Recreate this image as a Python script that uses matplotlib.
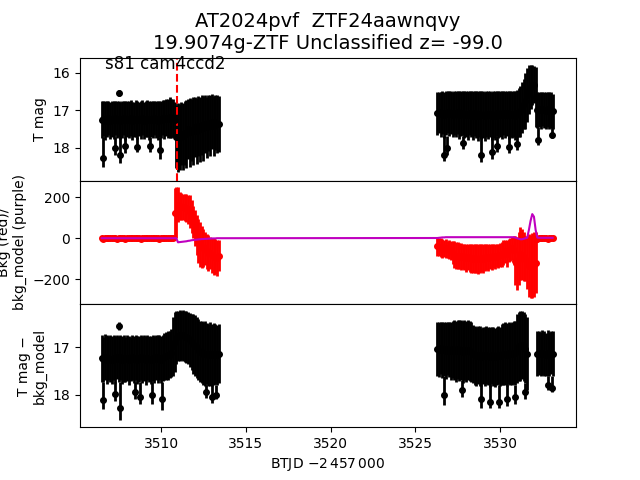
#!/usr/bin/env python3
# -*- coding: utf-8 -*-
"""
Curva de luz TESS: magnitud T, fondo (bkg) y magnitud corregida del modelo de fondo.
"""
import numpy as np
import matplotlib
matplotlib.use('Agg')
import matplotlib.pyplot as plt

nan = np.nan

'''-------    DATOS     -------'''
# Tiempos (BTJD - 2457000) del primer tramo del sector
t_s1 = [3506.5, 3506.6, 3506.7, 3506.8, 3506.9, 3507.0, 3507.1, 3507.2, 3507.3, 3507.4,
        3507.5, 3507.6, 3507.7, 3507.8, 3507.9, 3508.0, 3508.1, 3508.2, 3508.3, 3508.4,
        3508.5, 3508.6, 3508.7, 3508.8, 3508.9, 3509.0, 3509.1, 3509.2, 3509.3, 3509.4,
        3509.5, 3509.6, 3509.7, 3509.8, 3509.9, 3510.0, 3510.1, 3510.2, 3510.3, 3510.4,
        3510.5, 3510.6, 3510.7, 3510.8, 3510.9, 3511.0, 3511.1, 3511.2, 3511.3, 3511.4,
        3511.5, 3511.6, 3511.7, 3511.8, 3511.9, 3512.0, 3512.1, 3512.2, 3512.3, 3512.4,
        3512.5, 3512.6, 3512.7, 3512.8, 3512.9, 3513.0, 3513.1, 3513.2, 3513.3, 3513.4]
# Tiempos del segundo tramo
t_s2 = [3526.3, 3526.4, 3526.5, 3526.6, 3526.7, 3526.8, 3526.9, 3527.0, 3527.1, 3527.2,
        3527.3, 3527.4, 3527.5, 3527.6, 3527.7, 3527.8, 3527.9, 3528.0, 3528.1, 3528.2,
        3528.3, 3528.4, 3528.5, 3528.6, 3528.7, 3528.8, 3528.9, 3529.0, 3529.1, 3529.2,
        3529.3, 3529.4, 3529.5, 3529.6, 3529.7, 3529.8, 3529.9, 3530.0, 3530.1, 3530.2,
        3530.3, 3530.4, 3530.5, 3530.6, 3530.7, 3530.8, 3530.9, 3531.0, 3531.1, 3531.2,
        3531.3, 3531.4, 3531.5, 3531.6, 3531.7, 3531.8, 3531.9, 3532.0, 3532.1, 3532.2,
        3532.3, 3532.4, 3532.5, 3532.6, 3532.7, 3532.8, 3532.9, 3533.0, 3533.1]

# Magnitud T (panel superior)
mag_s1 = [17.25, 17.22, 17.28, 17.24, 17.20, 17.27, 17.23, 17.26, 17.21, 17.25,
          17.22, 17.27, 17.24, 17.20, 17.26, 17.23, 17.25, 17.21, 17.28, 17.24,
          17.22, 17.26, 17.23, 17.25, 17.20, 17.27, 17.24, 17.22, 17.26, 17.23,
          17.25, 17.21, 17.24, 17.27, 17.22, 17.25, 17.20, 17.24, 17.19, 17.22,
          17.18, 17.21, 17.20, 17.25, 17.70, 17.72, 17.71, 17.62, 17.69, 17.60,
          17.63, 17.50, 17.59, 17.52, 17.55, 17.45, 17.55, 17.42, 17.51, 17.40,
          17.48, 17.37, 17.45, 17.33, 17.41, 17.30, 17.42, 17.32, 17.37, 17.36]
err_s1 = [0.50, 0.47, 0.52, 0.48, 0.45, 0.50, 0.49, 0.51, 0.46, 0.50,
          0.48, 0.49, 0.50, 0.46, 0.52, 0.47, 0.50, 0.48, 0.51, 0.47,
          0.49, 0.50, 0.46, 0.51, 0.47, 0.50, 0.48, 0.49, 0.52, 0.47,
          0.50, 0.46, 0.49, 0.51, 0.48, 0.50, 0.47, 0.52, 0.50, 0.53,
          0.55, 0.52, 0.50, 0.47, 0.85, 0.92, 0.89, 0.84, 0.89, 0.85,
          0.91, 0.80, 0.91, 0.82, 0.90, 0.80, 0.87, 0.80, 0.86, 0.80,
          0.86, 0.77, 0.82, 0.75, 0.81, 0.73, 0.80, 0.74, 0.78, 0.74]
mag_s2 = [17.08, 17.05, 17.10, 17.06, 17.12, 17.07, 17.04, 17.09, 17.06, 17.11,
          17.07, 17.10, 17.05, 17.12, 17.08, 17.06, 17.11, 17.09, 17.13, 17.07,
          17.10, 17.14, 17.08, 17.12, 17.15, 17.09, 17.13, 17.11, 17.16, 17.10,
          17.13, 17.09, 17.15, 17.11, 17.14, 17.08, 17.12, 17.10, 17.13, 17.07,
          17.11, 17.08, 17.13, 17.09, 17.12, 17.10, 17.14, 17.08, 17.05, 17.02,
          16.93, 16.83, 16.75, 16.59, 16.45, 16.37, 16.33, 16.31, 16.65, 16.98,
          16.97, 17.00, 16.96, 16.99, 17.01, 16.97, 17.00, 16.98, 17.02]
err_s2 = [0.58, 0.55, 0.60, 0.57, 0.62, 0.58, 0.56, 0.60, 0.57, 0.61,
          0.60, 0.62, 0.58, 0.64, 0.60, 0.59, 0.63, 0.61, 0.65, 0.60,
          0.62, 0.65, 0.60, 0.63, 0.66, 0.61, 0.64, 0.62, 0.66, 0.61,
          0.64, 0.61, 0.65, 0.62, 0.65, 0.60, 0.63, 0.62, 0.64, 0.60,
          0.62, 0.60, 0.64, 0.61, 0.63, 0.62, 0.65, 0.62, 0.65, 0.68,
          0.68, 0.68, 0.75, 0.71, 0.65, 0.58, 0.53, 0.49, 0.80, 0.48,
          0.47, 0.49, 0.46, 0.48, 0.50, 0.47, 0.49, 0.48, 0.47]
# Puntos aislados (outliers) del panel superior, con error hacia brillante / hacia debil
t_out_mag = [3506.6, 3507.3, 3507.5, 3507.6, 3507.85, 3508.6, 3509.35, 3509.95,
             3526.7, 3526.85, 3527.8, 3528.9, 3529.5, 3529.8, 3530.5, 3531.0, 3532.25, 3533.05]
mag_out = [18.27, 18.00, 16.53, 18.19, 17.95, 17.97, 17.95, 18.05,
           18.19, 18.00, 17.88, 18.19, 18.10, 17.95, 17.97, 17.90, 17.80, 17.65]
err_out_br = [0.55, 0.28, 0.08, 0.47, 0.23, 0.25, 0.23, 0.33,
              0.51, 0.32, 0.20, 0.51, 0.42, 0.27, 0.29, 0.22, 0.35, 0.20]
err_out_db = [0.25, 0.18, 0.08, 0.22, 0.18, 0.15, 0.15, 0.25,
              0.15, 0.20, 0.15, 0.18, 0.20, 0.15, 0.18, 0.15, 0.12, 0.10]

# Fondo medido (puntos rojos)
bkg_s1 = [1, -2, 0, 2, -1, 1, 3, -1, 0, -2,
          2, 0, -1, 1, -2, 0, 2, 1, -1, 0,
          -1, 2, 0, -2, 1, 3, 0, -1, 2, 0,
          1, -1, 2, 0, -2, 1, 0, 2, -1, 1,
          0, 2, 1, 123, 125, 165, 157, 155, 153, 150,
          147, 141, 130, 105, 80, 48, 17, -12, -31, -42,
          -47, -50, -64, -72, -71, -84, -90, -90, -96, -85]
bkg_err_s1 = [3, 3, 3, 3, 3, 3, 3, 3, 3, 3,
              3, 3, 3, 3, 3, 3, 3, 3, 3, 3,
              3, 3, 3, 3, 3, 3, 3, 3, 3, 3,
              3, 3, 3, 3, 3, 3, 3, 3, 3, 3,
              3, 3, 3, 123, 125, 85, 67, 65, 65, 65,
              67, 71, 80, 80, 80, 88, 97, 107, 109, 102,
              92, 80, 86, 87, 79, 86, 90, 85, 88, 75]
bkg_s2 = [-40, -42, -45, -50, -52, -50, -55, -55, -60, -70,
          -80, -85, -85, -88, -90, -88, -92, -95, -92, -95,
          -98, -100, -98, -100, -102, -100, -98, -100, -95, -92,
          -95, -90, -92, -88, -90, -85, -88, -82, -80, -70,
          -65, -75, -60, -55, -50, -60, -110, -125, -100, -75,
          -80, -90, -100, -120, -135, -140, -135, -130, -120, -5,
          0, 2, -1, 1, 0, -2, 1, 0, 2]
bkg_err_s2 = [45, 45, 48, 45, 42, 45, 42, 45, 48, 55,
              65, 65, 67, 65, 65, 62, 65, 68, 64, 68,
              70, 70, 72, 70, 72, 70, 68, 72, 65, 62,
              65, 60, 62, 60, 62, 58, 60, 58, 60, 60,
              58, 65, 55, 55, 55, 70, 120, 130, 130, 130,
              125, 120, 110, 130, 155, 155, 160, 160, 150, 12,
              3, 3, 3, 3, 3, 3, 3, 3, 3]

# Modelo de fondo (linea morada)
model_s1 = [0, 0, 0, 0, 0, 0, 0, 0, 0, 0,
            0, 0, 0, 0, 0, 0, 0, 0, 0, 0,
            0, 0, 0, 0, 0, 0, 0, 0, 0, 0,
            0, 0, 0, 0, 0, 0, 0, 0, 0, 0,
            0, 0, 0, 0, 0, -20, -19, -18, -17, -16,
            -15, -13, -12, -10, -9, -8, -7, -6, -5, -4,
            -4, -3, -3, -2, -2, -1, -1, -1, 0, 0]
model_s2 = [1, 2, 3, 4, 4, 5, 5, 5, 5, 5,
            5, 5, 5, 5, 5, 5, 5, 5, 5, 5,
            5, 5, 5, 5, 5, 5, 5, 5, 5, 5,
            5, 5, 5, 5, 5, 5, 5, 5, 5, 5,
            5, 5, 5, 5, 5, 5, 3, 0, -3, -5,
            -5, -3, 0, 2, 40, 85, 118, 105, 40, 3,
            2, 2, 2, 2, 2, 2, 2, 2, 2]

# Magnitud T menos el modelo de fondo (panel inferior)
magc_s1 = [17.23, 17.25, 17.21, 17.26, 17.22, 17.24, 17.27, 17.22, 17.25, 17.20,
           17.24, 17.21, 17.26, 17.23, 17.25, 17.22, 17.27, 17.24, 17.21, 17.25,
           17.22, 17.26, 17.24, 17.21, 17.25, 17.23, 17.27, 17.22, 17.24, 17.26,
           17.23, 17.25, 17.21, 17.24, 17.22, 17.26, 17.23, 17.20, 17.19, 17.17,
           17.15, 17.12, 16.98, 16.88, 16.79, 16.75, 16.74, 16.74, 16.74, 16.77,
           16.77, 16.80, 16.84, 16.89, 16.93, 16.96, 17.00, 17.05, 17.09, 17.10,
           17.13, 17.13, 17.13, 17.16, 17.14, 17.16, 17.14, 17.14, 17.16, 17.13]
errc_s1 = [0.50, 0.48, 0.49, 0.52, 0.47, 0.50, 0.51, 0.48, 0.50, 0.46,
           0.49, 0.47, 0.51, 0.50, 0.48, 0.49, 0.52, 0.47, 0.48, 0.50,
           0.48, 0.51, 0.49, 0.47, 0.50, 0.49, 0.52, 0.48, 0.49, 0.51,
           0.49, 0.50, 0.47, 0.51, 0.48, 0.50, 0.49, 0.50, 0.51, 0.51,
           0.50, 0.50, 0.63, 0.63, 0.57, 0.53, 0.54, 0.52, 0.54, 0.54,
           0.55, 0.55, 0.57, 0.59, 0.63, 0.64, 0.65, 0.65, 0.64, 0.65,
           0.66, 0.68, 0.65, 0.66, 0.67, 0.66, 0.66, 0.64, 0.64, 0.63]
magc_s2 = [17.03, 17.05, 17.02, 17.06, 17.04, 17.07, 17.03, 17.05, 17.08, 17.04,
           17.06, 17.08, 17.04, 17.07, 17.05, 17.09, 17.06, 17.08, 17.05, 17.07,
           17.10, 17.14, 17.17, 17.19, 17.16, 17.18, 17.20, 17.17, 17.19, 17.16,
           17.18, 17.20, 17.17, 17.19, 17.21, 17.18, 17.16, 17.19, 17.15, 17.14,
           17.13, 17.15, 17.12, 17.14, 17.13, 17.11, 17.12, 17.03, 16.98, 16.97,
           16.94, 16.98, 17.03, 17.13, nan, nan, nan, nan, nan, 17.13,
           17.12, 17.14, 17.11, 17.13, 17.15, 17.12, 17.14, 17.11, 17.13]
errc_s2 = [0.57, 0.58, 0.55, 0.59, 0.57, 0.60, 0.56, 0.58, 0.61, 0.60,
           0.64, 0.65, 0.62, 0.65, 0.63, 0.66, 0.64, 0.65, 0.63, 0.64,
           0.64, 0.62, 0.63, 0.62, 0.61, 0.63, 0.62, 0.61, 0.63, 0.62,
           0.62, 0.63, 0.61, 0.62, 0.63, 0.62, 0.61, 0.63, 0.64, 0.66,
           0.66, 0.67, 0.65, 0.66, 0.67, 0.66, 0.67, 0.73, 0.73, 0.74,
           0.72, 0.73, 0.73, 0.78, nan, nan, nan, nan, nan, 0.47,
           0.47, 0.46, 0.48, 0.47, 0.46, 0.48, 0.47, 0.46, 0.47]
t_out_magc = [3506.6, 3507.3, 3507.5, 3507.6, 3508.45, 3508.75, 3509.45, 3510.05,
              3512.65, 3513.0, 3513.25,
              3526.7, 3527.75, 3528.9, 3529.4, 3529.95, 3530.4, 3530.9, 3531.5, 3532.8, 3533.05]
magc_out = [18.11, 17.98, 16.55, 18.28, 17.95, 18.05, 18.00, 18.10,
            17.95, 18.05, 18.00,
            18.00, 17.90, 18.10, 18.15, 18.15, 18.10, 18.05, 17.95, 17.80, 17.85]
errc_out_br = [0.38, 0.25, 0.08, 0.55, 0.22, 0.32, 0.27, 0.37,
               0.15, 0.25, 0.20,
               0.40, 0.20, 0.30, 0.35, 0.35, 0.30, 0.25, 0.20, 0.20, 0.25]
errc_out_db = [0.20, 0.15, 0.08, 0.25, 0.15, 0.15, 0.20, 0.22,
               0.12, 0.12, 0.10,
               0.22, 0.15, 0.18, 0.13, 0.13, 0.15, 0.15, 0.15, 0.10, 0.10]

# Fecha de referencia (linea discontinua roja)
t_ref = 3510.92
etiqueta = "s81 cam4ccd2"
titulo = "AT2024pvf  ZTF24aawnqvy\n19.9074g-ZTF Unclassified z= -99.0"

'''-------    FIGURA     -------'''
fig, (ax1, ax2, ax3) = plt.subplots(3, 1, sharex=True, figsize=(6.4, 4.8), dpi=100)
fig.subplots_adjust(hspace=0)

estilo = dict(fmt='o', ms=4, elinewidth=2)

# Panel superior: magnitud T
for t, m, e in [(t_s1, mag_s1, err_s1), (t_s2, mag_s2, err_s2),
                (t_out_mag, mag_out, [err_out_br, err_out_db])]:
    ax1.errorbar(t, m, yerr=e, color='k', **estilo)
ax1.axvline(t_ref, color='r', ls='--', lw=1.5)
ax1.set_ylim(18.88, 15.59)
ax1.set_yticks([16, 17, 18])
ax1.set_ylabel("T mag")
ax1.text(0.05, 0.945, etiqueta, transform=ax1.transAxes, fontsize=12, va='center')
ax1.set_title(titulo, fontsize=14)

# Panel central: fondo y modelo
for t, b, e in [(t_s1, bkg_s1, bkg_err_s1), (t_s2, bkg_s2, bkg_err_s2)]:
    ax2.errorbar(t, b, yerr=e, color='r', **estilo)
ax2.plot(t_s1 + t_s2, model_s1 + model_s2, color='m', lw=1.5, zorder=5)
ax2.set_ylim(-322, 281)
ax2.set_yticks([-200, 0, 200])
ax2.set_ylabel("Bkg (red)/\nbkg_model (purple)")

# Panel inferior: magnitud menos modelo de fondo
for t, m, e in [(t_s1, magc_s1, errc_s1), (t_s2, magc_s2, errc_s2),
                (t_out_magc, magc_out, [errc_out_br, errc_out_db])]:
    ax3.errorbar(t, m, yerr=e, color='k', **estilo)
ax3.set_ylim(18.69, 16.08)
ax3.set_yticks([17, 18])
ax3.set_ylabel("T mag \u2212\nbkg_model")
ax3.set_xlim(3505.22, 3534.48)
ax3.set_xlabel("BTJD $-2\\,457\\,000$")

fig.savefig("out.png")
